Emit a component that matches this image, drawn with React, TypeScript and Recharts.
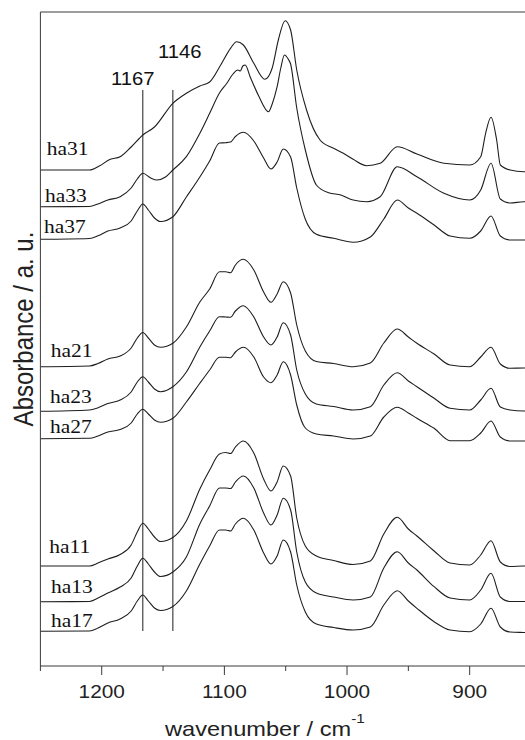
import React from 'react';
import { LineChart, Line, XAxis, YAxis, ReferenceLine } from 'recharts';

// wavenumber grids (cm^-1)
const WN = [1250, 1210, 1203, 1195, 1185, 1176, 1171, 1166.5, 1162, 1157, 1152, 1142, 1131, 1120, 1112, 1104, 1099, 1095, 1091, 1084.5, 1076, 1068, 1062, 1057, 1052, 1046, 1041, 1034, 1025, 1011, 995, 981, 970, 959, 950, 943, 929, 916, 900, 891, 882.6, 875, 867, 856, 850];
const WN_HA31 = [1250, 1210, 1202, 1193, 1185, 1176, 1166.5, 1157, 1142, 1131, 1120, 1112, 1103, 1095, 1090, 1084.5, 1076, 1067, 1061, 1056, 1050.5, 1046, 1041, 1033, 1022, 1011, 1003, 995, 984, 973, 959, 943, 921, 900, 891, 887, 882.6, 878, 875, 867, 856, 850];
const WN_HA33 = [1250, 1210, 1203, 1195, 1185, 1176, 1171, 1166.5, 1160, 1155, 1148, 1142, 1131, 1120, 1112, 1104, 1098, 1093, 1089, 1087, 1085, 1083, 1079, 1072, 1064, 1061, 1057, 1054, 1051, 1048, 1046, 1041, 1034, 1025, 1015, 1005, 995, 984, 973, 959, 943, 921, 900, 891, 882.6, 875, 867, 856, 850];

// absorbance above each spectrum's own baseline (a. u.)
const HA31 = [0, 0, 4, 10.7, 13.3, 23, 35, 43, 66.7, 76.7, 84, 88, 105, 121.7, 128.3, 125, 106.7, 90.7, 102, 130, 149.3, 140, 100, 60, 30, 21.7, 16.7, 10.7, 4.3, 6.7, 23.3, 16, 6.7, 5, 13.3, 36.7, 52.7, 30, 5, 0, -1.7, -1.7];
const HA33 = [0, 0.2, 2.8, 6.7, 10, 18.7, 27.7, 33.4, 28.7, 26.7, 29.7, 36.7, 50, 73.4, 93.4, 113.7, 123.4, 132.7, 136.7, 135.7, 140.7, 141.7, 130, 110.7, 95, 102.7, 120, 138.7, 151.7, 147.7, 142.7, 98.7, 56.7, 21.7, 14, 11.7, 6.7, 5, 10, 40, 30, 13.4, 6.7, 16.7, 43.4, 7.7, 3.7, 5, 5];
const HA37 = [0, 0.8, 3.5, 8.3, 11.3, 18.3, 28.3, 35.3, 29.3, 21.3, 17.8, 22.6, 42.3, 62.3, 78.3, 96.3, 96.6, 97.3, 102.8, 107, 98.3, 81.3, 70.3, 77.3, 90.3, 82.3, 51.3, 20, 5, 1, -3, 2.3, 20.3, 39.3, 31.3, 26, 14.3, 3.3, 1, 8.3, 23.3, 3.3, -0.7, -0.7, -0.7];
const HA21 = [0, 0.7, 3.2, 7.7, 10.7, 18.7, 28.7, 34.2, 28.7, 21.7, 19.4, 23.4, 39.7, 64.7, 77.7, 95, 95, 94, 101.7, 107.4, 96.7, 74.7, 64.4, 72.7, 85, 73.7, 41.7, 15.7, 5.2, 3.2, 0, 3.7, 23.7, 37.7, 29.7, 23.4, 12.7, 1.7, 0, 9.7, 19.4, 2.7, -1.6, -1.3, -1.3];
const HA23 = [0, 1.3, 3.6, 7.8, 11.3, 19.3, 29.3, 34.6, 29.3, 22.3, 19.6, 24.6, 39.3, 64.3, 80.3, 94.6, 94.3, 94, 100.3, 105.6, 94.3, 74.3, 66.3, 74.3, 88.6, 76.3, 41.3, 17.3, 7.3, 4.8, 1.3, 4.6, 26.3, 38.6, 30.3, 24.6, 13, 3, 1.3, 11.3, 23, 4.3, 1.3, 0.3, 0.3];
const HA27 = [0, 0.4, 2.8, 6.7, 9.2, 15.7, 24.7, 29.4, 24.7, 18.7, 16.4, 20.4, 36.7, 55.4, 68.7, 81.4, 81.4, 81, 86.7, 91.4, 81.7, 61.7, 56, 63.7, 77, 63.7, 33.7, 10.7, 4.7, 2.7, -0.3, 2.7, 21.7, 31.4, 25.7, 20.4, 10.4, -2, -2, 5.7, 17.7, 1.7, -2.3, -2.3, -2.3];
const HA11 = [0, 0, 3, 7, 11.5, 21, 34, 42.7, 37, 29, 24.5, 28.5, 45, 77, 96, 112, 113.5, 112.5, 119, 125, 113, 87, 75, 84, 100, 90, 48, 20, 10, 5.5, 1.5, 5, 32, 48.7, 37, 30, 15, 3, 1, 11, 25.3, 4, -0.5, 0, -0.5];
const HA13 = [0, 0.2, 3.6, 8.7, 14.7, 23.7, 35.7, 43.4, 37.7, 29.7, 25.2, 29.7, 44.7, 77.7, 95.7, 113.7, 113.7, 113.2, 119.7, 125.7, 113.7, 88.7, 76.7, 86.7, 103.4, 91.7, 49.7, 19.7, 8.7, 4.7, 1.7, 4.7, 33.7, 50, 38.7, 31.7, 15, 3.7, 1.7, 11.7, 28.4, 4.7, 0.2, 0.2, -0.3];
const HA17 = [0, 0.3, 3.3, 8.3, 12.3, 20.3, 30.3, 36.3, 30.3, 23.3, 20.8, 24.8, 40.3, 67.3, 85.3, 101.3, 101.3, 100.3, 107.3, 113, 101.3, 78.3, 67.3, 75.3, 91.3, 79.3, 46.3, 19.3, 7.3, 3.8, 1.3, 4.3, 26.3, 40.6, 30.3, 23, 9.6, 1.3, -0.4, 7.3, 23, 4.3, -0.7, -1.2, -1.4];

const SERIES_NAMES = ['ha31', 'ha33', 'ha37', 'ha21', 'ha23', 'ha27', 'ha11', 'ha13', 'ha17'];
// vertical stacking offsets of the spectra (a. u.)
const OFFSETS = [496, 459.3, 426.7, 299.3, 254.7, 227.3, 100, 64.3, 34.7];

const X_TICKS = [1250, 1200, 1150, 1100, 1050, 1000, 950, 900, 850];
const X_MAJOR = [1200, 1100, 1000, 900];
const X_DOMAIN = [850, 1250];
const Y_MAX = 654;

const MARKER_POS = [1166.5, 1142];
const MARKER_TEXT = ['1167', '1146'];
const MARKER_SPAN = [35, 576];

// ---- styling (not data) ----
const LABEL_OFFSETS = [
  [6.3, -15], [4.6, -5], [3.6, -6],
  [10.3, -10], [9.6, -8.6], [9.6, -5.4],
  [8.9, -12.7], [10.6, -8.4], [10.6, -4.6],
];
const MARKER_LABEL_OFFSETS = [[-10, -5], [7, -32]];
const SANS = '"Liberation Sans", Arial, Helvetica, sans-serif';
const SERIF = '"Liberation Serif", "Times New Roman", serif';
const INK = '#1e1e1e';
const AXIS = '#3a3a3a';

const GRIDS = [WN_HA31, WN_HA33, WN, WN, WN, WN, WN, WN, WN];
const VALUES = [HA31, HA33, HA37, HA21, HA23, HA27, HA11, HA13, HA17];

const SERIES = SERIES_NAMES.map((name, i) => ({
  name,
  data: GRIDS[i].map((x, j) => ({ x, y: OFFSETS[i] + VALUES[i][j] })),
}));

const AxisTick = (props: any) => {
  const { x, y, payload } = props;
  const major = X_MAJOR.includes(payload.value);
  return (
    <g>
      <line x1={x} y1={y} x2={x} y2={y + (major ? 9 : 5)} stroke={AXIS} strokeWidth={1} />
      {major && (
        <text
          transform={`translate(${x},${y + 32}) scale(1.12,1)`}
          textAnchor="middle"
          fontFamily={SANS}
          fontSize={18.6}
          fill="#222"
        >
          {payload.value}
        </text>
      )}
    </g>
  );
};

const XTitle = (props: any) => {
  const vb = props.viewBox || { x: 40.4, y: 666 };
  return (
    <text
      transform={`translate(${vb.x + 124.6},${vb.y + 69.5}) scale(1.18,1)`}
      fontFamily={SANS}
      fontSize={20}
      fill="#222"
    >
      wavenumber / cm
      <tspan dy={-13} fontSize={13}>-1</tspan>
    </text>
  );
};

const YTitle = (props: any) => {
  const vb = props.viewBox || { x: 0, y: 12 };
  return (
    <text
      transform={`translate(${vb.x + 33},${vb.y + 317}) rotate(-90) scale(1,1.15)`}
      textAnchor="middle"
      fontFamily={SANS}
      fontSize={24}
      fill="#222"
    >
      Absorbance / a. u.
    </text>
  );
};

const makeMarkerLabel = (text: string, dx: number, dy: number) => (props: any) => {
  const vb = props.viewBox || { x: 0, y: 0, width: 0 };
  const x = vb.x + (vb.width || 0) / 2 + dx;
  const y = vb.y + dy;
  return (
    <text
      transform={`translate(${x},${y}) scale(1.09,1)`}
      textAnchor="middle"
      fontFamily={SANS}
      fontSize={18.6}
      fill="#111"
    >
      {text}
    </text>
  );
};

const makeSeriesLabel = (text: string, dx: number, dy: number) => (p: any) => {
  if (p.index !== 0) return <g />;
  const px = p.x ?? p.viewBox?.x ?? 0;
  const py = p.y ?? p.viewBox?.y ?? 0;
  return (
    <text
      key={`lbl-${text}`}
      transform={`translate(${px + dx},${py + dy}) scale(1.1,1)`}
      fontFamily={SERIF}
      fontSize={19.5}
      fill="#111"
    >
      {text}
    </text>
  );
};

export default function App() {
  return (
    <div
      style={{
        position: 'absolute',
        left: 0,
        top: 0,
        width: 525,
        height: 740,
        overflow: 'hidden',
        background: '#fff',
      }}
    >
      <LineChart width={531} height={740} margin={{ top: 12, right: 0, bottom: 0, left: 0 }}>
        <XAxis
          dataKey="x"
          type="number"
          domain={X_DOMAIN}
          reversed
          allowDataOverflow
          ticks={X_TICKS}
          interval={0}
          tickSize={0}
          tickMargin={0}
          tickLine={false}
          tick={<AxisTick />}
          height={74}
          axisLine={{ stroke: AXIS, strokeWidth: 1 }}
          label={<XTitle />}
        />
        <YAxis
          type="number"
          domain={[0, Y_MAX]}
          allowDataOverflow
          tick={false}
          tickLine={false}
          width={40.4}
          axisLine={{ stroke: AXIS, strokeWidth: 1 }}
          label={<YTitle />}
        />
        <ReferenceLine y={Y_MAX} stroke={AXIS} strokeWidth={1} />
        {MARKER_POS.map((m, i) => (
          <ReferenceLine
            key={MARKER_TEXT[i]}
            segment={[{ x: m, y: MARKER_SPAN[0] }, { x: m, y: MARKER_SPAN[1] }]}
            stroke={INK}
            strokeWidth={1}
            label={makeMarkerLabel(MARKER_TEXT[i], MARKER_LABEL_OFFSETS[i][0], MARKER_LABEL_OFFSETS[i][1])}
          />
        ))}
        {SERIES.map((s, i) => (
          <Line
            key={s.name}
            data={s.data}
            dataKey="y"
            type="monotone"
            stroke={INK}
            strokeWidth={1.1}
            dot={false}
            activeDot={false}
            isAnimationActive={false}
            label={makeSeriesLabel(s.name, LABEL_OFFSETS[i][0], LABEL_OFFSETS[i][1])}
          />
        ))}
      </LineChart>
    </div>
  );
}
